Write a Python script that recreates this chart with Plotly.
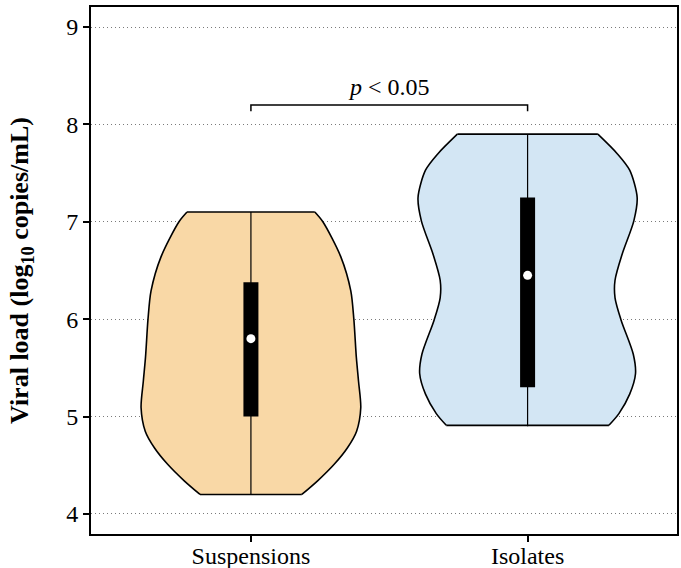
import plotly.graph_objects as go

# ---- data ----
categories = ["Suspensions", "Isolates"]
positions = [0, 1]

# violin outline: y levels (log10 copies/mL) and half-widths (x units)
susp_y = [7.10, 7.00, 6.64, 6.29, 6.00, 5.61, 5.36, 5.09, 4.85, 4.68, 4.51, 4.34, 4.20]
susp_hw = [0.231, 0.260, 0.325, 0.361, 0.372, 0.381, 0.389, 0.397, 0.382, 0.349, 0.301, 0.241, 0.184]
iso_y = [7.90, 7.70, 7.53, 7.25, 7.01, 6.67, 6.40, 6.22, 5.99, 5.64, 5.44, 5.23, 5.03, 4.91]
iso_hw = [0.254, 0.324, 0.369, 0.396, 0.384, 0.342, 0.316, 0.316, 0.338, 0.382, 0.390, 0.369, 0.330, 0.294]

# box summary: min, q1, median, q3, max
mins = [4.20, 4.90]
q1s = [5.00, 5.30]
medians = [5.80, 6.45]
q3s = [6.38, 7.25]
maxs = [7.10, 7.90]

fills = ["#F9D8A6", "#D3E6F4"]
p_text = "<i>p</i> < 0.05"
bracket_y = 8.20
bracket_drop = 0.065

y_ticks = [4, 5, 6, 7, 8, 9]

FONT = "Liberation Serif, Times New Roman, serif"

fig = go.Figure()

profiles = [(susp_y, susp_hw), (iso_y, iso_hw)]
for pos, (ys, hws), col in zip(positions, profiles, fills):
    left_x = [pos - w for w in hws]
    right_x = [pos + w for w in hws]
    line_style = dict(color="black", width=1.6, shape="spline", smoothing=0.8)
    fig.add_trace(go.Scatter(x=left_x, y=ys, mode="lines", line=line_style,
                             hoverinfo="skip", showlegend=False))
    fig.add_trace(go.Scatter(x=right_x, y=ys, mode="lines", line=line_style,
                             fill="tonextx", fillcolor=col,
                             hoverinfo="skip", showlegend=False))
    # flat top and bottom edges
    fig.add_trace(go.Scatter(x=[left_x[0], right_x[0], None, left_x[-1], right_x[-1]],
                             y=[ys[0], ys[0], None, ys[-1], ys[-1]], mode="lines",
                             line=dict(color="black", width=1.6),
                             hoverinfo="skip", showlegend=False))

for i, pos in enumerate(positions):
    # whisker line
    fig.add_trace(go.Scatter(x=[pos, pos], y=[mins[i], maxs[i]], mode="lines",
                             line=dict(color="black", width=1.2), showlegend=False, hoverinfo="skip"))
    # IQR bar
    fig.add_trace(go.Scatter(x=[pos, pos], y=[q1s[i], q3s[i]], mode="lines",
                             line=dict(color="black", width=15), showlegend=False, hoverinfo="skip"))
    # median
    fig.add_trace(go.Scatter(x=[pos], y=[medians[i]], mode="markers",
                             marker=dict(color="white", size=9, line=dict(width=0)),
                             showlegend=False, hoverinfo="skip"))

# significance bracket
fig.add_trace(go.Scatter(x=[positions[0], positions[0], positions[1], positions[1]],
                         y=[bracket_y - bracket_drop, bracket_y, bracket_y, bracket_y - bracket_drop],
                         mode="lines", line=dict(color="black", width=1.5),
                         showlegend=False, hoverinfo="skip"))
fig.add_annotation(x=(positions[0] + positions[1]) / 2, y=bracket_y + 0.03, text=p_text,
                   showarrow=False, yanchor="bottom", font=dict(family=FONT, size=24, color="black"))

fig.update_layout(
    width=681, height=568,
    margin=dict(l=91, r=4, t=7, b=34),
    paper_bgcolor="white", plot_bgcolor="white",
    font=dict(family=FONT, size=24, color="black"),
    showlegend=False,
)
fig.update_xaxes(range=[-0.578, 1.54], tickvals=positions, ticktext=categories,
                 showgrid=False, zeroline=False, showline=True, linecolor="black", linewidth=2,
                 mirror=True, ticks="outside", ticklen=6, tickwidth=2, tickcolor="black",
                 tickfont=dict(family=FONT, size=24), automargin=False, ticklabelstandoff=-7)
fig.update_yaxes(range=[3.794, 9.206], tickvals=y_ticks,
                 showgrid=True, gridcolor="#7a7a7a", griddash="1px,3px", gridwidth=1.2,
                 zeroline=False, showline=True, linecolor="black", linewidth=2,
                 mirror=True, ticks="outside", ticklen=6, tickwidth=2, tickcolor="black",
                 tickfont=dict(family=FONT, size=24), automargin=False,
                 title=dict(text="<b>Viral load (log<sub>10</sub> copies/mL)</b>",
                            font=dict(family=FONT, size=26), standoff=30))

fig.write_html("out.html")
